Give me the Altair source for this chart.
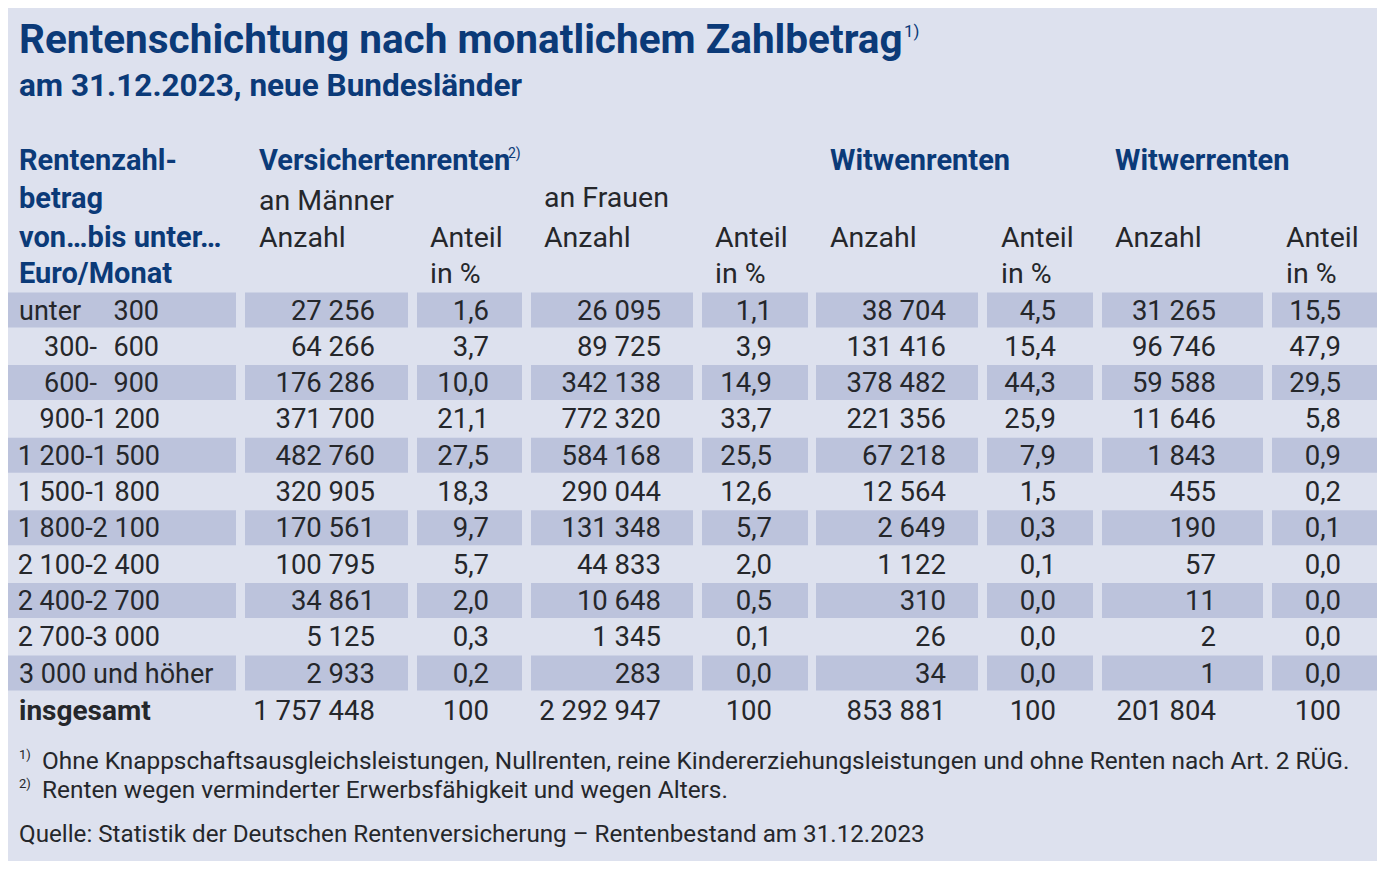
import altair as alt
import pandas as pd

# ---------------- data ----------------
range_from = ["unter", "300-", "600-", "900-", "1 200-", "1 500-", "1 800-",
              "2 100-", "2 400-", "2 700-", "3 000 und höher"]
range_to = ["300", "600", "900", "1 200", "1 500", "1 800", "2 100",
            "2 400", "2 700", "3 000", ""]

maenner_anzahl = [27256, 64266, 176286, 371700, 482760, 320905, 170561, 100795, 34861, 5125, 2933]
maenner_anteil = [1.6, 3.7, 10.0, 21.1, 27.5, 18.3, 9.7, 5.7, 2.0, 0.3, 0.2]
frauen_anzahl = [26095, 89725, 342138, 772320, 584168, 290044, 131348, 44833, 10648, 1345, 283]
frauen_anteil = [1.1, 3.9, 14.9, 33.7, 25.5, 12.6, 5.7, 2.0, 0.5, 0.1, 0.0]
witwen_anzahl = [38704, 131416, 378482, 221356, 67218, 12564, 2649, 1122, 310, 26, 34]
witwen_anteil = [4.5, 15.4, 44.3, 25.9, 7.9, 1.5, 0.3, 0.1, 0.0, 0.0, 0.0]
witwer_anzahl = [31265, 96746, 59588, 11646, 1843, 455, 190, 57, 11, 2, 1]
witwer_anteil = [15.5, 47.9, 29.5, 5.8, 0.9, 0.2, 0.1, 0.0, 0.0, 0.0, 0.0]
totals = [1757448, 100, 2292947, 100, 853881, 100, 201804, 100]

title = "Rentenschichtung nach monatlichem Zahlbetrag"
subtitle = "am 31.12.2023, neue Bundesländer"
head_bold = ["Rentenzahl-", "betrag", "von\u2026bis unter\u2026", "Euro/Monat",
             "Versichertenrenten", "Witwenrenten", "Witwerrenten"]
head_plain = ["an Männer", "an Frauen",
              "Anzahl", "Anteil", "Anzahl", "Anteil", "Anzahl", "Anteil", "Anzahl", "Anteil",
              "in %", "in %", "in %", "in %"]
total_label = "insgesamt"
footnotes = ["Ohne Knappschaftsausgleichsleistungen, Nullrenten, reine Kindererziehungsleistungen und ohne Renten nach Art. 2 RÜG.",
             "Renten wegen verminderter Erwerbsfähigkeit und wegen Alters."]
source = "Quelle: Statistik der Deutschen Rentenversicherung \u2013 Rentenbestand am 31.12.2023"

# ---------------- layout ----------------
BG = "#dde1ee"
BAND = "#bcc3dc"
NAVY = "#0b3a78"
INK = "#25272b"
FONT = "Roboto"

W, H = 1369, 853
ROW0, STEP = 310.0, 36.3
TOTAL_Y = 710
col_edges = [(2, 236), (245, 408), (417, 522), (531, 693), (702, 808),
             (816, 978), (987, 1093), (1102, 1263), (1272, 1382)]
num_right = [375, 489, 661, 772, 946, 1056, 1216, 1341]

xs = alt.Scale(domain=[8, 8 + W], range=[0, W], nice=False, zero=False)
ys = alt.Scale(domain=[8, 8 + H], range=[0, H], nice=False, zero=False)


def fmt_int(v):
    return f"{v:,}".replace(",", " ")


def fmt_pct(v):
    return f"{v:.1f}".replace(".", ",")


def text_layer(df, align="left", size=27, weight="normal", color=INK):
    return alt.Chart(df).mark_text(
        align=align, baseline="middle", font=FONT, fontSize=size,
        fontWeight=weight, color=color, dy=1.5
    ).encode(
        x=alt.X("x:Q", scale=xs, axis=None),
        y=alt.Y("y:Q", scale=ys, axis=None),
        text="t:N",
    )


# band rectangles
rects = []
for i in range(len(range_from)):
    if i % 2 == 0:
        yc = ROW0 + i * STEP
        for (a, b) in col_edges:
            rects.append({"x": max(a, 8), "x2": min(b, 8 + W), "y": yc - 17.5, "y2": yc + 17.5})
rect_df = pd.DataFrame(rects)
band_layer = alt.Chart(rect_df).mark_rect(color=BAND).encode(
    x=alt.X("x:Q", scale=xs, axis=None), x2="x2:Q",
    y=alt.Y("y:Q", scale=ys, axis=None), y2="y2:Q",
)

# numeric cells
series = [maenner_anzahl, maenner_anteil, frauen_anzahl, frauen_anteil,
          witwen_anzahl, witwen_anteil, witwer_anzahl, witwer_anteil]
cells = []
for c, s in enumerate(series):
    f = fmt_int if c % 2 == 0 else fmt_pct
    for i, v in enumerate(s):
        cells.append({"x": num_right[c], "y": ROW0 + i * STEP, "t": f(v)})
    cells.append({"x": num_right[c], "y": TOTAL_Y, "t": fmt_int(totals[c])})
cells_df = pd.DataFrame(cells)

# row labels
lab_left, lab_right, lab_mid = [], [], []
for i, (a, b) in enumerate(zip(range_from, range_to)):
    y = ROW0 + i * STEP
    if b == "" or not a.endswith("-"):
        lab_left.append({"x": 19, "y": y, "t": a})
        if b:
            lab_right.append({"x": 159, "y": y, "t": b})
    elif len(b) > 3:
        lab_right.append({"x": 160, "y": y, "t": a + b})
    else:
        lab_mid.append({"x": 97, "y": y, "t": a})
        lab_right.append({"x": 159, "y": y, "t": b})

# headers
bold_pos = [(19, 159), (19, 197), (19, 236), (19, 272), (259, 159), (830, 159), (1115, 159)]
plain_pos = [(259, 199), (544, 196),
             (259, 236), (430, 236), (544, 236), (715, 236), (830, 236), (1001, 236), (1115, 236), (1286, 236),
             (430, 272), (715, 272), (1001, 272), (1286, 272)]
bold_df = pd.DataFrame([{"x": p[0], "y": p[1], "t": t} for t, p in zip(head_bold, bold_pos)])
plain_df = pd.DataFrame([{"x": p[0], "y": p[1], "t": t} for t, p in zip(head_plain, plain_pos)])

layers = [
    band_layer,
    text_layer(pd.DataFrame([{"x": 19, "y": 39, "t": title}]), size=40.5, weight="bold", color=NAVY),
    text_layer(pd.DataFrame([{"x": 904, "y": 30, "t": "1)"}]), size=17, color=NAVY),
    text_layer(pd.DataFrame([{"x": 19, "y": 85, "t": subtitle}]), size=31.5, weight="bold", color=NAVY),
    text_layer(bold_df, size=29, weight="bold", color=NAVY),
    text_layer(pd.DataFrame([{"x": 508, "y": 152, "t": "2)"}]), size=14, color=NAVY),
    text_layer(plain_df, size=28.5),
    text_layer(pd.DataFrame(lab_left), size=27),
    text_layer(pd.DataFrame(lab_mid), align="right", size=27),
    text_layer(pd.DataFrame(lab_right), align="right", size=27),
    text_layer(cells_df, align="right", size=27.5),
    text_layer(pd.DataFrame([{"x": 19, "y": TOTAL_Y, "t": total_label}]), size=28, weight="bold"),
    text_layer(pd.DataFrame([{"x": 19, "y": 753, "t": "1)"}, {"x": 19, "y": 782, "t": "2)"}]), size=13),
    text_layer(pd.DataFrame([{"x": 42, "y": 760, "t": footnotes[0]}, {"x": 42, "y": 789, "t": footnotes[1]}]), size=24.4),
    text_layer(pd.DataFrame([{"x": 19, "y": 833, "t": source}]), size=24.2),
]

chart = alt.layer(*layers).properties(
    width=W, height=H, padding=0, background=BG,
    autosize=alt.AutoSizeParams(type="none"),
).configure_view(stroke=None, fill=BG)

chart.save("out.html", embed_options={"renderer": "svg", "actions": False})
